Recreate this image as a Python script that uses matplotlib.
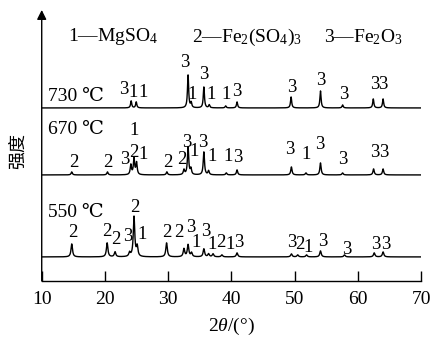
import numpy as np
import matplotlib
matplotlib.use("Agg")
import matplotlib.pyplot as plt

plt.rcParams['font.family'] = ['Liberation Serif', 'DejaVu Serif', 'Noto Sans CJK SC']
plt.rcParams['mathtext.fontset'] = 'custom'
plt.rcParams['mathtext.rm'] = 'Liberation Serif'
plt.rcParams['mathtext.it'] = 'Liberation Serif:italic'

# Peak positions (2θ, °), relative heights and phase labels for each temperature
temps = ["550", "670", "730"]
offsets = {"550": 24, "670": 106, "730": 173}

peaks_550 = [14.75, 20.35, 21.6, 23.9, 24.6, 25.1, 29.75, 32.5, 33.15, 33.7,
             35.65, 36.4, 37.1, 38.5, 40.9, 49.5, 50.5, 51.9, 54.1, 57.9, 62.6, 64.0]
heights_550 = [13, 14, 5, 4, 40, 10, 14, 8, 12, 4, 8, 3, 3, 2, 4, 3, 2, 2, 6, 2, 4, 5]

peaks_670 = [14.75, 20.4, 24.1, 24.6, 25.0, 29.8, 32.5, 33.15, 33.6, 35.65, 36.4,
             39.2, 40.9, 49.5, 51.8, 54.1, 57.6, 62.5, 64.0]
heights_670 = [3, 3, 10, 16, 12, 3, 5, 28, 6, 23, 4, 2, 5, 8, 2, 12, 2, 6, 6]

peaks_730 = [24.15, 24.95, 33.15, 33.65, 35.65, 36.5, 39.1, 40.9, 49.45, 54.1,
             57.6, 62.45, 64.0]
heights_730 = [7, 6, 33, 5, 21, 3, 2, 6, 11, 17, 3, 9, 9]

# Phase labels: (text, 2θ, height above the pattern baseline)
labels_550 = [("2", 14.85, 24), ("2", 20.35, 25), ("2", 21.7, 17), ("3", 23.6, 20),
              ("2", 24.75, 49), ("1", 25.9, 22), ("2", 29.75, 24), ("2", 31.7, 24),
              ("3", 33.6, 29), ("1", 34.5, 14), ("3", 35.9, 25), ("1", 36.95, 12),
              ("2", 38.4, 14), ("1", 39.85, 12), ("3", 41.1, 14), ("3", 49.5, 14),
              ("2", 50.8, 12), ("1", 52.2, 9), ("3", 54.4, 15), ("3", 58.2, 7),
              ("3", 62.9, 12), ("3", 64.5, 12)]
labels_670 = [("2", 15.0, 12), ("2", 20.5, 12), ("3", 23.1, 15), ("2", 24.6, 22),
              ("1", 24.6, 44), ("1", 26.1, 20), ("2", 29.9, 12), ("2", 32.2, 15),
              ("3", 32.9, 32), ("1", 34.1, 23), ("3", 35.5, 32), ("1", 36.95, 18),
              ("1", 39.5, 18), ("3", 40.95, 17), ("3", 49.3, 25), ("1", 51.75, 20),
              ("3", 54.0, 30), ("3", 57.6, 15), ("3", 62.65, 22), ("3", 64.05, 22)]
labels_730 = [("3", 23.0, 18), ("1", 24.5, 15), ("1", 26.0, 15), ("3", 32.6, 45),
              ("1", 33.85, 13), ("3", 35.6, 33), ("1", 36.85, 13), ("1", 39.2, 13),
              ("3", 40.8, 16), ("3", 49.5, 20), ("3", 54.1, 27), ("3", 57.8, 13),
              ("3", 62.65, 23), ("3", 63.97, 23)]

temp_label_height = {"550": 44, "670": 45, "730": 11}

patterns = {
    "550": (peaks_550, heights_550, labels_550, 0.28),
    "670": (peaks_670, heights_670, labels_670, 0.24),
    "730": (peaks_730, heights_730, labels_730, 0.22),
}

# Phase key: text and left edge (2θ)
legend_items = [(r"1—MgSO$_4$", 14.15),
                (r"2—Fe$_2$(SO$_4$)$_3$", 33.8),
                (r"3—Fe$_2$O$_3$", 54.7)]

tth = np.arange(10.0, 70.0, 0.02)


def profile(positions, heights, fwhm):
    y = np.zeros_like(tth)
    g = fwhm / 2.0
    for p, h in zip(positions, heights):
        y += h * (g ** 2) / ((tth - p) ** 2 + g ** 2)
    return y


fig = plt.figure(figsize=(4.31, 3.43), dpi=100)
ax = fig.add_axes([0.0968, 0.181, 0.880, 0.790])

fs = 14
fs_peak = 13.5
for t in temps:
    pos, hts, labs, w = patterns[t]
    base = offsets[t]
    ax.plot(tth, base + profile(pos, hts, w), color='k', lw=1.0)
    for txt, x, h in labs:
        ax.text(x, base + h, txt, ha='center', va='center', fontsize=fs_peak)
    ax.text(11.0, base + temp_label_height[t], f"{t} ℃", ha='left', va='center',
            fontsize=fs)

for txt, x in legend_items:
    ax.text(x, 244, txt, ha='left', va='center', fontsize=fs)

ax.set_xlim(10, 70)
ax.set_ylim(0, 271)
ax.set_xticks([10, 20, 30, 40, 50, 60, 70])
ax.set_yticks([])
ax.tick_params(axis='x', direction='in', length=7, width=1.0, labelsize=14, pad=7)
for s in ['top', 'right', 'left']:
    ax.spines[s].set_visible(False)
ax.spines['bottom'].set_linewidth(1.0)

ax.annotate('', xy=(0, 1.0), xytext=(0, 0), xycoords='axes fraction',
            arrowprops=dict(arrowstyle='-|>', lw=1.0, color='k',
                            mutation_scale=14, shrinkA=0, shrinkB=0),
            annotation_clip=False)

ax.set_xlabel(r"2$\mathit{\theta}$/(°)", fontsize=14, labelpad=6)
fig.text(0.042, 0.56, "强度", rotation=90, ha='center', va='center', fontsize=13,
         family=['Noto Sans CJK SC'])

fig.savefig("out.png", dpi=100)
